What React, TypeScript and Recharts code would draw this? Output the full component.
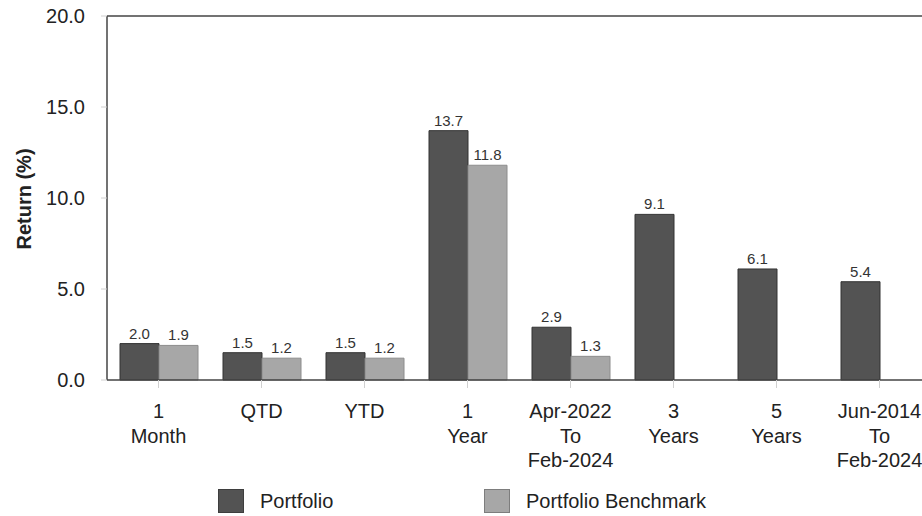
import {
  Bar,
  BarChart,
  LabelList,
  ReferenceLine,
  XAxis,
  YAxis,
} from "recharts";

const periods = [
  "1\nMonth",
  "QTD",
  "YTD",
  "1\nYear",
  "Apr-2022\nTo\nFeb-2024",
  "3\nYears",
  "5\nYears",
  "Jun-2014\nTo\nFeb-2024",
];
const portfolioReturns = [2.0, 1.5, 1.5, 13.7, 2.9, 9.1, 6.1, 5.4];
const benchmarkReturns: (number | null)[] = [1.9, 1.2, 1.2, 11.8, 1.3, null, null, null];
const yTicks = [0, 5, 10, 15, 20];

const data = periods.map((period, i) => ({
  period,
  portfolio: portfolioReturns[i],
  benchmark: benchmarkReturns[i],
}));

const font = "'Liberation Sans', Arial, sans-serif";
const darkFill = "#535353";
const lightFill = "#a7a7a7";

function PeriodTick({ x, y, payload }: any) {
  const lines = String(payload.value).split("\n");
  return (
    <text x={x} y={y + 28} textAnchor="middle" fontFamily={font} fontSize={20} fill="#222">
      {lines.map((line, i) => (
        <tspan key={i} x={x} dy={i === 0 ? 0 : 24.5}>
          {line}
        </tspan>
      ))}
    </text>
  );
}

function fmt(v: any) {
  return v == null ? "" : Number(v).toFixed(1);
}

function LegendItem({ left, color, text }: { left: number; color: string; text: string }) {
  return (
    <div style={{ position: "absolute", left, top: 489, display: "flex", alignItems: "center" }}>
      <div
        style={{
          width: 26,
          height: 24,
          background: color,
          border: "1px solid rgba(0,0,0,0.25)",
          boxSizing: "border-box",
        }}
      />
      <span style={{ marginLeft: 16, fontFamily: font, fontSize: 20, color: "#222" }}>{text}</span>
    </div>
  );
}

export default function App() {
  return (
    <div
      style={{
        position: "fixed",
        left: 0,
        top: 0,
        width: 922,
        height: 516,
        overflow: "hidden",
        background: "#fff",
      }}
    >
      <BarChart
        width={940}
        height={516}
        data={data}
        margin={{ top: 16, right: 9, left: 0, bottom: 0 }}
        barCategoryGap={13}
        barGap={0}
      >
        <ReferenceLine y={20} stroke="#444" strokeWidth={1.5} />
        <XAxis
          dataKey="period"
          height={136}
          interval={0}
          axisLine={{ stroke: "#444", strokeWidth: 1.5 }}
          tickLine={{ stroke: "#d0d0d0" }}
          tickSize={8}
          tick={<PeriodTick />}
        />
        <YAxis
          width={107}
          domain={[0, 20]}
          ticks={yTicks}
          interval={0}
          tickFormatter={(v) => Number(v).toFixed(1)}
          axisLine={{ stroke: "#444", strokeWidth: 1.5 }}
          tickLine={{ stroke: "#d0d0d0" }}
          tickSize={6}
          tickMargin={16}
          tick={{ fontFamily: font, fontSize: 20, fill: "#222" }}
          label={() => (
            <text
              x={24}
              y={199}
              transform="rotate(-90 24 199)"
              textAnchor="middle"
              dominantBaseline="central"
              fontFamily={font}
              fontSize={20}
              fontWeight="bold"
              fill="#222"
            >
              Return (%)
            </text>
          )}
        />
        <Bar dataKey="portfolio" fill={darkFill} stroke="#333" strokeWidth={1} isAnimationActive={false}>
          <LabelList
            dataKey="portfolio"
            position="top"
            offset={5}
            formatter={fmt}
            style={{ fontFamily: font, fontSize: 15, fill: "#333" }}
          />
        </Bar>
        <Bar dataKey="benchmark" fill={lightFill} stroke="#8c8c8c" strokeWidth={1} isAnimationActive={false}>
          <LabelList
            dataKey="benchmark"
            position="top"
            offset={5}
            formatter={fmt}
            style={{ fontFamily: font, fontSize: 15, fill: "#333" }}
          />
        </Bar>
      </BarChart>
      <LegendItem left={218} color={darkFill} text="Portfolio" />
      <LegendItem left={484} color={lightFill} text="Portfolio Benchmark" />
    </div>
  );
}
